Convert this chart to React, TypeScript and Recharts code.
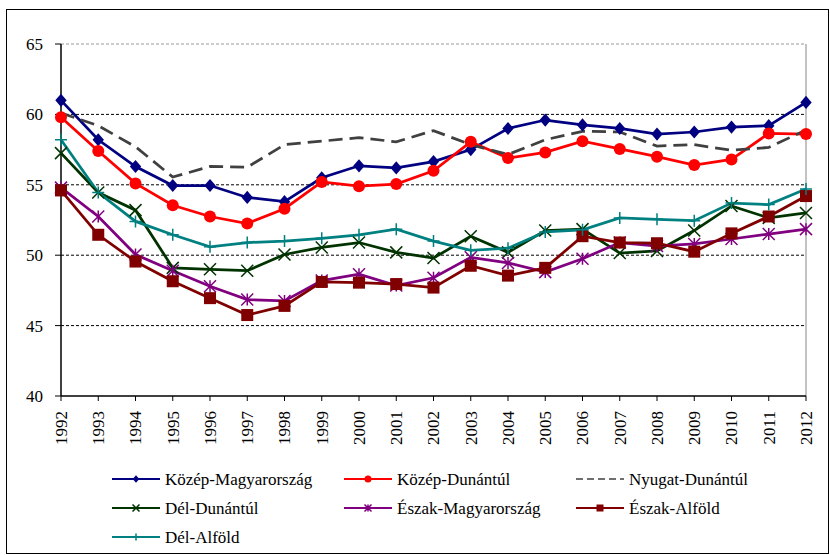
import { CartesianGrid, Line, LineChart, ReferenceLine, XAxis, YAxis } from "recharts";

const years = [
  "1992", "1993", "1994", "1995", "1996", "1997", "1998", "1999", "2000", "2001", "2002",
  "2003", "2004", "2005", "2006", "2007", "2008", "2009", "2010", "2011", "2012",
];

const kozepMagyarorszag = [61.0, 58.2, 56.3, 54.95, 54.95, 54.1, 53.8, 55.5, 56.35, 56.2, 56.65, 57.5, 59.0, 59.6, 59.25, 59.0, 58.6, 58.75, 59.1, 59.2, 60.85];
const kozepDunantul = [59.8, 57.4, 55.1, 53.55, 52.75, 52.25, 53.3, 55.2, 54.9, 55.05, 56.0, 58.05, 56.9, 57.3, 58.1, 57.55, 57.0, 56.4, 56.8, 58.65, 58.6];
const nyugatDunantul = [60.1, 59.2, 57.7, 55.55, 56.3, 56.25, 57.85, 58.1, 58.35, 58.05, 58.85, 57.85, 57.15, 58.2, 58.8, 58.75, 57.75, 57.85, 57.45, 57.65, 58.9];
const delDunantul = [57.25, 54.45, 53.2, 49.1, 49.0, 48.9, 50.05, 50.55, 50.9, 50.2, 49.8, 51.35, 50.2, 51.75, 51.85, 50.15, 50.3, 51.75, 53.5, 52.65, 53.0];
const eszakMagyarorszag = [54.8, 52.75, 50.05, 48.9, 47.8, 46.85, 46.75, 48.2, 48.65, 47.85, 48.4, 49.85, 49.45, 48.8, 49.75, 50.9, 50.65, 50.8, 51.15, 51.5, 51.85];
const eszakAlfold = [54.6, 51.45, 49.55, 48.15, 46.95, 45.75, 46.4, 48.1, 48.05, 47.95, 47.7, 49.25, 48.55, 49.1, 51.35, 50.9, 50.85, 50.25, 51.55, 52.75, 54.2];
const delAlfold = [58.2, 54.45, 52.4, 51.45, 50.6, 50.9, 51.0, 51.2, 51.45, 51.85, 51.0, 50.35, 50.5, 51.65, 51.8, 52.65, 52.55, 52.45, 53.7, 53.6, 54.7];

const yTicks = [40, 45, 50, 55, 60, 65];

type Marker = "diamond" | "circle" | "none" | "cross" | "star" | "square" | "plus";

const series: { key: string; name: string; values: number[]; color: string; marker: Marker; dash?: string }[] = [
  { key: "km", name: "Közép-Magyarország", values: kozepMagyarorszag, color: "#000080", marker: "diamond" },
  { key: "kd", name: "Közép-Dunántúl", values: kozepDunantul, color: "#ff0000", marker: "circle" },
  { key: "nd", name: "Nyugat-Dunántúl", values: nyugatDunantul, color: "#404040", marker: "none", dash: "14 7" },
  { key: "dd", name: "Dél-Dunántúl", values: delDunantul, color: "#003300", marker: "cross" },
  { key: "em", name: "Észak-Magyarország", values: eszakMagyarorszag, color: "#800080", marker: "star" },
  { key: "ea", name: "Észak-Alföld", values: eszakAlfold, color: "#800000", marker: "square" },
  { key: "da", name: "Dél-Alföld", values: delAlfold, color: "#008080", marker: "plus" },
];

const data = years.map((year, i) => {
  const row: Record<string, string | number> = { year };
  series.forEach((s) => (row[s.key] = s.values[i]));
  return row;
});

const FONT = '"Liberation Serif", "DejaVu Serif", serif';
const textStyle = { fontFamily: FONT, fontSize: 17 };

function drawMarker(type: Marker, cx: number, cy: number, color: string, r: number, key?: string | number) {
  switch (type) {
    case "diamond":
      return (
        <polygon key={key} points={`${cx},${cy - r * 1.1} ${cx + r * 0.95},${cy} ${cx},${cy + r * 1.1} ${cx - r * 0.95},${cy}`} fill={color} />
      );
    case "circle":
      return <circle key={key} cx={cx} cy={cy} r={r} fill={color} />;
    case "square":
      return <rect key={key} x={cx - r} y={cy - r} width={r * 2} height={r * 2} fill={color} />;
    case "cross":
      return (
        <path key={key} d={`M${cx - r},${cy - r}L${cx + r},${cy + r}M${cx - r},${cy + r}L${cx + r},${cy - r}`} stroke={color} strokeWidth={1.5} fill="none" />
      );
    case "star":
      return (
        <path
          key={key}
          d={`M${cx - r},${cy - r}L${cx + r},${cy + r}M${cx - r},${cy + r}L${cx + r},${cy - r}M${cx},${cy - r}L${cx},${cy + r}`}
          stroke={color}
          strokeWidth={1.5}
          fill="none"
        />
      );
    case "plus":
      return <path key={key} d={`M${cx - r},${cy}L${cx + r},${cy}M${cx},${cy - r}L${cx},${cy + r}`} stroke={color} strokeWidth={1.5} fill="none" />;
    default:
      return <g key={key} />;
  }
}

function YearTick(props: any) {
  const { x, y, payload } = props;
  return (
    <text x={x} y={y} transform={`rotate(-90, ${x}, ${y})`} textAnchor="end" dy="0.35em" style={textStyle} fill="#000">
      {payload.value}
    </text>
  );
}

function ValueTick(props: any) {
  const { x, y, payload } = props;
  return (
    <text x={x} y={y} textAnchor="end" dy="0.35em" style={textStyle} fill="#000">
      {payload.value}
    </text>
  );
}

const legendCols = [112, 344, 576];
const legendRows = [479, 508, 537];

function LegendBox() {
  return (
    <svg width={830} height={555} style={{ position: "absolute", left: 0, top: 0, pointerEvents: "none" }}>
      {series.map((s, i) => {
        const x = legendCols[i % 3];
        const y = legendRows[Math.floor(i / 3)];
        return (
          <g key={s.key}>
            <line x1={x} y1={y} x2={x + 48} y2={y} stroke={s.color} strokeWidth={s.dash ? 1.5 : 2} strokeDasharray={s.dash ? "7 4" : undefined} />
            {drawMarker(s.marker, x + 24, y, s.color, 3.5)}
            <text x={x + 53} y={y} dy="0.35em" style={textStyle} fill="#000">
              {s.name}
            </text>
          </g>
        );
      })}
    </svg>
  );
}

export default function App() {
  return (
    <div style={{ position: "absolute", left: 0, top: 0, width: 830, height: 555, background: "#fff", fontFamily: FONT }}>
      <div
        style={{
          position: "absolute",
          left: 6,
          top: 9,
          width: 823,
          height: 545,
          boxSizing: "border-box",
          border: "1px solid #000",
        }}
      />
      <div style={{ position: "absolute", left: 0, top: 0 }}>
        <LineChart width={830} height={555} data={data} margin={{ top: 44, right: 24, bottom: 99, left: 0 }}>
          <CartesianGrid vertical={false} horizontalValues={[45, 50, 55, 60]} stroke="#000" strokeDasharray="3 2" />
          <ReferenceLine y={65} stroke="#999" strokeDasharray="3 2" />
          <ReferenceLine x="2012" stroke="#999" strokeWidth={1.2} />
          <XAxis
            dataKey="year"
            scale="point"
            padding={{ left: 0, right: 0 }}
            interval={0}
            height={60}
            tickSize={5}
            tickMargin={10}
            axisLine={{ stroke: "#000", strokeWidth: 1.5 }}
            tickLine={{ stroke: "#000" }}
            tick={<YearTick />}
          />
          <YAxis
            domain={[40, 65]}
            ticks={yTicks}
            width={61}
            tickSize={6}
            tickMargin={12}
            axisLine={{ stroke: "#000", strokeWidth: 1.5 }}
            tickLine={{ stroke: "#000" }}
            tick={<ValueTick />}
          />
          {series.map((s) => (
            <Line
              key={s.key}
              dataKey={s.key}
              name={s.name}
              type="linear"
              stroke={s.color}
              strokeWidth={2.75}
              strokeDasharray={s.dash}
              isAnimationActive={false}
              dot={(p: any) => drawMarker(s.marker, p.cx, p.cy, s.color, 6, p.index)}
              activeDot={false}
            />
          ))}
        </LineChart>
      </div>
      <LegendBox />
    </div>
  );
}
